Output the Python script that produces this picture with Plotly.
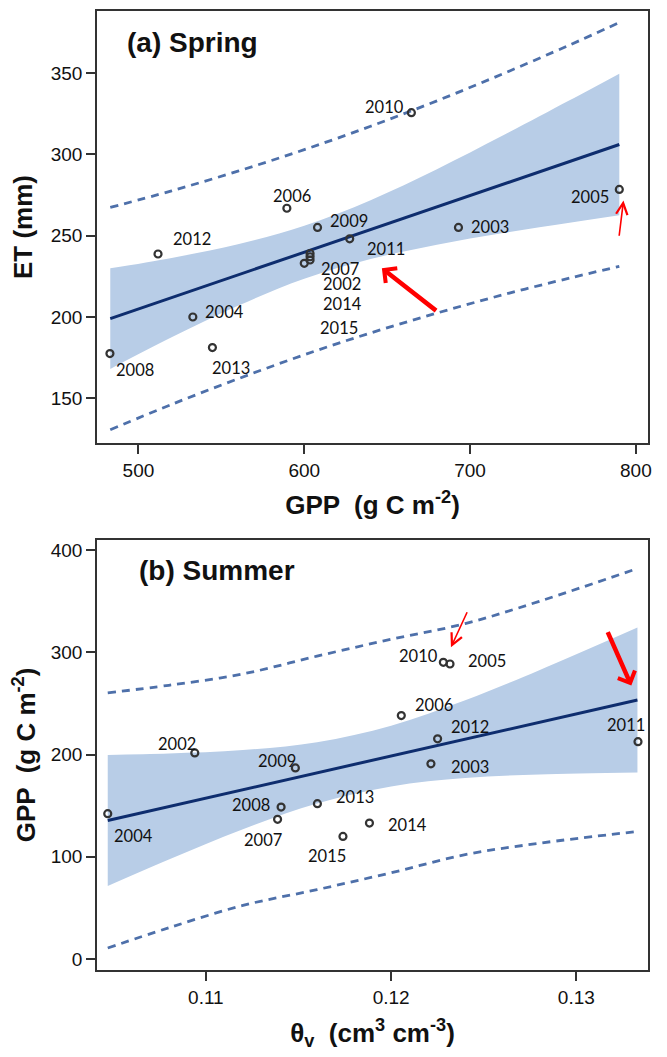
import plotly.graph_objects as go

# ---------------- Panel (a) Spring: ET vs GPP ----------------
spring_years = ["2010", "2005", "2006", "2009", "2003", "2011", "2012", "2007",
                "2002", "2014", "2015", "2004", "2013", "2008"]
spring_gpp = [664.6, 790.0, 589.5, 608.0, 693.0, 627.4, 511.8, 600.0,
              603.5, 603.5, 603.5, 532.8, 544.6, 482.8]
spring_et = [325.5, 278.4, 266.8, 255.0, 255.0, 248.0, 238.7, 233.0,
             235.0, 237.0, 239.0, 200.0, 181.2, 177.5]

# fitted line and bands
spring_band_x = [483, 520, 560, 600, 640, 680, 720, 760, 790]
spring_fit = [199.0, 211.9, 225.8, 239.8, 253.7, 267.6, 281.6, 295.5, 306.0]
spring_conf_lo = [168.1, 187.5, 206.9, 223.5, 235.6, 244.4, 251.6, 257.9, 262.5]
spring_conf_hi = [229.9, 236.3, 244.7, 256.1, 271.8, 290.8, 311.6, 333.1, 349.5]
spring_pred_lo = [130.7, 146.3, 162.0, 176.8, 190.2, 202.4, 213.7, 223.9, 231.1]
spring_pred_hi = [267.3, 277.5, 289.6, 302.8, 317.2, 332.8, 349.5, 367.1, 380.9]

# label positions (x, y, anchor)
spring_label_x = [661.4, 785.2, 592.5, 614.3, 699.1, 636.7, 519.6, 609.0,
                  610.3, 609.8, 608.4, 539.0, 543.0, 485.2]
spring_label_y = [329.2, 273.5, 274.6, 258.9, 255.0, 241.6, 248.1, 229.7,
                  220.3, 207.7, 193.0, 203.2, 168.5, 167.5]
spring_label_anchor = ["right", "right", "center", "left", "left", "left", "left", "left",
                       "left", "left", "left", "left", "left", "left"]

spring_xticks = [500, 600, 700, 800]
spring_yticks = [150, 200, 250, 300, 350]

# ---------------- Panel (b) Summer: GPP vs theta_v ----------------
summer_years = ["2010", "2005", "2006", "2012", "2003", "2011", "2002", "2009",
                "2004", "2008", "2007", "2013", "2014", "2015"]
summer_theta = [0.12282, 0.12318, 0.12055, 0.12251, 0.12215, 0.13333, 0.10940, 0.11483,
                0.10470, 0.11406, 0.11387, 0.11602, 0.11883, 0.11740]
summer_gpp = [290.2, 288.6, 238.2, 215.4, 191.0, 212.6, 201.6, 187.0,
              142.2, 148.7, 136.7, 152.0, 133.0, 120.0]

summer_band_x = [0.1047, 0.108, 0.112, 0.116, 0.120, 0.124, 0.128, 0.1333]
summer_fit = [135.6, 149.2, 165.7, 182.1, 198.6, 215.1, 231.6, 253.4]
summer_conf_lo = [71.5, 97.4, 127.0, 152.1, 168.9, 177.0, 180.6, 182.5]
summer_conf_hi = [199.7, 201.0, 204.4, 212.1, 228.3, 253.2, 282.6, 324.3]
summer_pred_lo = [10.8, 30.6, 52.5, 67.9, 84.4, 102.1, 113.3, 124.8]
summer_pred_hi = [260.4, 267.8, 278.9, 296.3, 312.8, 328.1, 349.9, 382.0]

summer_label_x = [0.12266, 0.12403, 0.12116, 0.12314, 0.12314, 0.13268, 0.10957, 0.11382,
                  0.10491, 0.11358, 0.11196, 0.11693, 0.11973, 0.11542]
summer_label_y = [296.8, 291.2, 248.9, 227.4, 187.7, 229.4, 210.5, 193.3,
                  120.0, 150.3, 116.1, 158.4, 130.8, 100.5]
summer_label_anchor = ["right", "left", "left", "left", "left", "center", "right", "center",
                       "left", "right", "left", "left", "left", "left"]

summer_xticks = [0.11, 0.12, 0.13]
summer_yticks = [0, 100, 200, 300, 400]

# red arrows: (tail x, tail y, tip x, tip y, width, head)
spring_arrows = [(680.4, 203.2, 646.8, 230.0, 4.5, 4),
                 (789.8, 249.0, 792.5, 271.5, 1.6, 5)]
summer_arrows = [(0.12414, 340.7, 0.12323, 304.9, 1.6, 5),
                 (0.13166, 321.2, 0.13297, 267.5, 4.5, 4)]

# ---------------- styling ----------------
BAND = "rgb(184,205,231)"
FIT = "rgb(14,45,110)"
PRED = "rgb(78,112,170)"
PT = "#333333"
AX = "#333333"

fig = go.Figure()


def add_panel(xa, ya, bx, fit, clo, chi, plo, phi, px, py):
    fig.add_trace(go.Scatter(x=bx, y=clo, mode="lines", line=dict(width=0, shape="spline"),
                             hoverinfo="skip", showlegend=False, xaxis=xa, yaxis=ya))
    fig.add_trace(go.Scatter(x=bx, y=chi, mode="lines", line=dict(width=0, shape="spline"),
                             fill="tonexty", fillcolor=BAND, hoverinfo="skip",
                             showlegend=False, xaxis=xa, yaxis=ya))
    for arr in (plo, phi):
        fig.add_trace(go.Scatter(x=bx, y=arr, mode="lines",
                                 line=dict(color=PRED, width=2.8, dash="8px,6px", shape="spline"),
                                 showlegend=False, xaxis=xa, yaxis=ya))
    fig.add_trace(go.Scatter(x=bx, y=fit, mode="lines", line=dict(color=FIT, width=3),
                             showlegend=False, xaxis=xa, yaxis=ya))
    fig.add_trace(go.Scatter(x=px, y=py, mode="markers",
                             marker=dict(symbol="circle-open", size=7, color=PT,
                                         line=dict(width=2.2, color=PT)),
                             showlegend=False, xaxis=xa, yaxis=ya))


add_panel("x", "y", spring_band_x, spring_fit, spring_conf_lo, spring_conf_hi,
          spring_pred_lo, spring_pred_hi, spring_gpp, spring_et)
add_panel("x2", "y2", summer_band_x, summer_fit, summer_conf_lo, summer_conf_hi,
          summer_pred_lo, summer_pred_hi, summer_theta, summer_gpp)

LABEL_FONT = dict(family="Lato, Open Sans, sans-serif", size=16.5, color="#111111")
annotations = []
for t, x, y, a in zip(spring_years, spring_label_x, spring_label_y, spring_label_anchor):
    annotations.append(dict(x=x, y=y, xref="x", yref="y", text=t, showarrow=False,
                            xanchor=a, yanchor="middle", font=LABEL_FONT))
for t, x, y, a in zip(summer_years, summer_label_x, summer_label_y, summer_label_anchor):
    annotations.append(dict(x=x, y=y, xref="x2", yref="y2", text=t, showarrow=False,
                            xanchor=a, yanchor="middle", font=LABEL_FONT))

for (ax_, ay_, x, y, w, h) in spring_arrows:
    annotations.append(dict(x=x, y=y, ax=ax_, ay=ay_, xref="x", yref="y", axref="x", ayref="y",
                            text="", showarrow=True, arrowcolor="red", arrowwidth=w,
                            arrowhead=h, arrowsize=0.8 if w > 3 else 1.4))
for (ax_, ay_, x, y, w, h) in summer_arrows:
    annotations.append(dict(x=x, y=y, ax=ax_, ay=ay_, xref="x2", yref="y2", axref="x2", ayref="y2",
                            text="", showarrow=True, arrowcolor="red", arrowwidth=w,
                            arrowhead=h, arrowsize=0.8 if w > 3 else 1.4))

PANEL_FONT = dict(family="Liberation Sans, Arial, sans-serif", size=28, color="#111111")
annotations.append(dict(x=0.05, y=0.926, xref="x domain", yref="y domain", text="<b>(a) Spring</b>",
                        showarrow=False, xanchor="left", yanchor="middle", font=PANEL_FONT))
annotations.append(dict(x=0.072, y=0.928, xref="x2 domain", yref="y2 domain", text="<b>(b) Summer</b>",
                        showarrow=False, xanchor="left", yanchor="middle", font=PANEL_FONT))

TICK_FONT = dict(family="Liberation Sans Narrow, Liberation Sans, Arial, sans-serif", size=19, color="#111111")
TITLE_FONT = dict(family="Liberation Sans, Arial, sans-serif", size=26, color="#111111")
axis_common = dict(showline=True, mirror=True, linecolor=AX, linewidth=1.6, ticks="outside",
                   ticklen=9, tickwidth=1.6, tickcolor=AX, showgrid=False, zeroline=False,
                   tickfont=TICK_FONT)

# the page body adds an 8px offset; figure sized to fit the 667x1057 window
fig.update_layout(
    width=659, height=1049,
    margin=dict(l=89, r=19, t=1, b=87),
    paper_bgcolor="white", plot_bgcolor="white",
    showlegend=False,
    annotations=annotations,
    xaxis=dict(domain=[0, 1], anchor="y", range=[475, 807.3], tickvals=spring_xticks,
               title=dict(text="<b>GPP  (g C m<sup>-2</sup>)</b>", font=TITLE_FONT, standoff=16),
               **axis_common),
    yaxis=dict(domain=[0.5494, 1], anchor="x", range=[122.5, 388], tickvals=spring_yticks,
               title=dict(text="<b>ET (mm)</b>", font=TITLE_FONT, standoff=14),
               **axis_common),
    xaxis2=dict(domain=[0, 1], anchor="y2", range=[0.10412, 0.13387], tickvals=summer_xticks,
                ticktext=["0.11", "0.12", "0.13"],
                title=dict(text="<b>θ<sub>v</sub>  (cm<sup>3</sup> cm<sup>-3</sup>)</b>",
                           font=TITLE_FONT, standoff=17),
                **axis_common),
    yaxis2=dict(domain=[0, 0.4485], anchor="x2", range=[-10.7, 410], tickvals=summer_yticks,
                title=dict(text="<b>GPP  (g C m<sup>-2</sup>)</b>", font=TITLE_FONT, standoff=14),
                **axis_common),
)

fig.write_html("out.html")
